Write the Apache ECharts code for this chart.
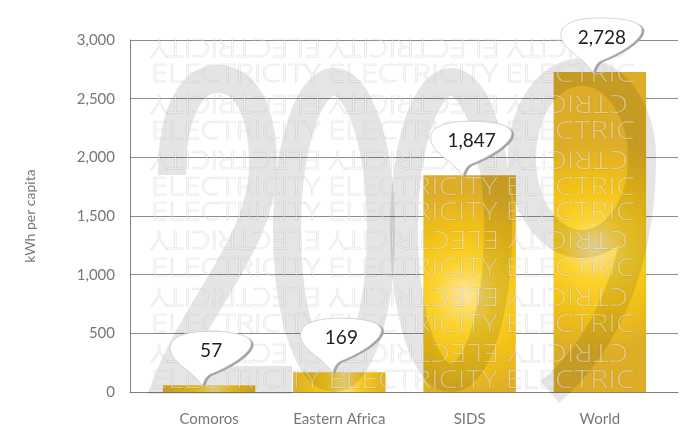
<!DOCTYPE html>
<html>
<head>
<meta charset="utf-8">
<script src="https://cdn.jsdelivr.net/npm/echarts@6/dist/echarts.min.js"></script>
<style>
  html, body { margin: 0; padding: 0; background: #ffffff; }
  #chart { width: 683px; height: 429px; }
</style>
</head>
<body>
<div id="chart"></div>
<script>
// Electricity consumption per capita (kWh)
const categories = ['Comoros', 'Eastern Africa', 'SIDS', 'World'];
const kwhPerCapita = [57, 169, 1847, 2728];
const yTicks = [0, 500, 1000, 1500, 2000, 2500, 3000];

const FONT = 'Lato, "DejaVu Sans", sans-serif';
const LABEL_COLOR = '#777777';

// plot box (pixels) shared by the two grids
const PLOT_TOP = 40;
const PLOT_BOTTOM = 392;

const chart = echarts.init(document.getElementById('chart'), null, { renderer: 'canvas' });

// Measure text so the background lettering can be stretched to a given width
const measureCtx = document.createElement('canvas').getContext('2d');
function textWidth(str, font) {
  measureCtx.font = font;
  return measureCtx.measureText(str).width;
}

// ---- large year numerals "2009", drawn as thick strokes ----
const yearShapes = [
  // 2
  'M172,175 C172,108 193,79 218,79 C246,79 263,112 263,165 C263,240 200,300 168,380 L292,380',
  // 0
  'M287,230 A47,148 0 1,1 381,230 A47,148 0 1,1 287,230 Z',
  // 0
  'M404,230 A47,148 0 1,1 498,230 A47,148 0 1,1 404,230 Z',
  // 9
  'M522,158 A60,86 0 1,1 642,158 A60,86 0 1,1 522,158 Z M642,158 C642,265 605,345 550,392'
];
function renderYear() {
  return {
    type: 'group',
    children: yearShapes.map(function (d) {
      return {
        type: 'path',
        shape: { pathData: d },
        style: { fill: 'none', stroke: 'rgba(0,0,0,0.1)', lineWidth: 28, lineCap: 'butt' }
      };
    })
  };
}

// ---- background lettering: rows of "ELECTRICITY", some rows turned upside down ----
const LETTER_SIZE = 25;
const LETTER_FONT = '300 ' + LETTER_SIZE + 'px "Open Sans", Lato, sans-serif';
const rowUpright = 'ELECTRICITY ELECTRICITY ELECTRIC';
const rowTurned = 'CTRICITY ELECTRICITY ELECTRICITY';
const rowLayout = [
  [47, true], [74, false], [103, true], [131, false], [159, true], [187, false],
  [212, false], [239, true], [268, false], [296, true], [324, false], [352, true], [380, false]
];
const ROW_LEFT = 151;
const graphics = [];

rowLayout.forEach(function (row) {
  const turned = row[1];
  const str = turned ? rowTurned : rowUpright;
  const targetWidth = turned ? 477 : 484;
  const sx = targetWidth / textWidth(str, LETTER_FONT);
  graphics.push({
    type: 'text',
    x: ROW_LEFT,
    y: row[0] + (turned ? -1 : 1),
    rotation: turned ? Math.PI : 0,
    scaleX: sx,
    z: 50,
    silent: true,
    style: {
      text: str,
      font: LETTER_FONT,
      fill: 'rgba(255,255,255,0.45)',
      stroke: 'rgba(0,0,0,0.12)',
      lineWidth: 0.75,
      align: turned ? 'right' : 'left',
      verticalAlign: 'middle'
    }
  });
});

// ---- bar fill: gold with a soft light centre ----
function barFill(params) {
  const v = params.value;
  if (v < 500) {
    return new echarts.graphic.LinearGradient(0, 0, 1, 0, [
      { offset: 0, color: '#ddae28' },
      { offset: 0.35, color: '#f7c918' },
      { offset: 0.55, color: '#fde07a' },
      { offset: 0.75, color: '#f7c81a' },
      { offset: 1, color: '#e0b024' }
    ]);
  }
  return new echarts.graphic.RadialGradient(0.45, 0.55, 1.15, [
    { offset: 0, color: '#fde6a0' },
    { offset: 0.3, color: '#fcd32e' },
    { offset: 0.6, color: '#f3c217' },
    { offset: 1, color: '#ddad27' }
  ]);
}

// ---- speech bubble path, tip at (0,0) ----
const BUBBLE_PATH =
  'M0,0 C-2,-4 -6,-8 -10,-12 C-20,-20 -32,-28 -32,-38 ' +
  'C-32,-50 -16,-55 8,-55 C32,-55 49,-51 49,-43 ' +
  'C49,-32 24,-18 8,-12 C4,-10 2,-6 0,0 Z';

function renderBubble(params, api) {
  const idx = api.value(0);
  const val = api.value(1);
  const p = api.coord([idx, val]);
  return {
    type: 'group',
    x: p[0] - 7,
    y: p[1] + 1,
    children: [
      {
        type: 'path',
        x: 2.5, y: 1.2,
        shape: { pathData: BUBBLE_PATH },
        style: { fill: '#a3a3a3' }
      },
      {
        type: 'path',
        shape: { pathData: BUBBLE_PATH },
        style: { fill: '#ffffff', stroke: '#c9c9c9', lineWidth: 0.8 }
      },
      {
        type: 'text',
        x: 9,
        y: -35,
        style: {
          text: echarts.format.addCommas(val),
          font: 'normal 19px ' + FONT,
          fill: '#1e1e1e',
          align: 'center',
          verticalAlign: 'middle'
        }
      }
    ]
  };
}

const option = {
  backgroundColor: '#ffffff',
  animation: false,
  grid: [
    { left: 130, right: 5, top: PLOT_TOP, bottom: 429 - PLOT_BOTTOM, containLabel: false },
    { left: 144, right: 18, top: PLOT_TOP, bottom: 429 - PLOT_BOTTOM, containLabel: false }
  ],
  xAxis: [
    {
      gridIndex: 0, type: 'value', min: 0, max: 1,
      axisLine: { show: true, onZero: false, lineStyle: { color: '#7f7f7f', width: 1 } },
      axisTick: { show: false }, axisLabel: { show: false }, splitLine: { show: false }
    },
    {
      gridIndex: 1, type: 'category', data: categories,
      axisLine: { show: false }, axisTick: { show: false }, splitLine: { show: false },
      axisLabel: { color: LABEL_COLOR, fontSize: 15, fontFamily: FONT, margin: 20 }
    }
  ],
  yAxis: [
    {
      gridIndex: 0, type: 'value',
      min: yTicks[0], max: yTicks[yTicks.length - 1], interval: yTicks[1] - yTicks[0],
      name: 'kWh per capita', nameLocation: 'middle', nameGap: 93,
      nameTextStyle: { color: LABEL_COLOR, fontSize: 14, fontFamily: FONT },
      axisLine: { show: true, lineStyle: { color: '#7f7f7f', width: 1 } },
      axisTick: { show: false },
      splitLine: { show: true, lineStyle: { color: '#8c8c8c', width: 1 } },
      axisLabel: {
        color: LABEL_COLOR, fontSize: 15, fontFamily: FONT, margin: 15,
        formatter: function (v) { return echarts.format.addCommas(v); }
      }
    },
    {
      gridIndex: 1, type: 'value',
      min: yTicks[0], max: yTicks[yTicks.length - 1], interval: yTicks[1] - yTicks[0],
      show: false
    }
  ],
  graphic: graphics,
  series: [
    {
      type: 'bar',
      xAxisIndex: 1, yAxisIndex: 1,
      data: kwhPerCapita,
      barCategoryGap: '29%',
      z: 2,
      itemStyle: { color: barFill }
    },
    {
      // year numerals laid over the bars
      type: 'custom',
      xAxisIndex: 0, yAxisIndex: 0,
      clip: false,
      silent: true,
      z: 45,
      data: [[0, 0]],
      renderItem: renderYear
    },
    {
      type: 'custom',
      xAxisIndex: 1, yAxisIndex: 1,
      clip: false,
      z: 100,
      data: kwhPerCapita.map(function (v, i) { return [i, v]; }),
      renderItem: renderBubble
    }
  ]
};

chart.setOption(option);
</script>
</body>
</html>
